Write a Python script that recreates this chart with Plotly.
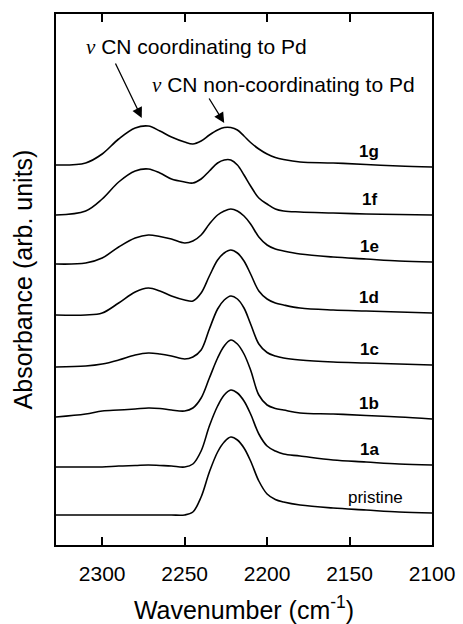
import plotly.graph_objects as go

# Wavenumber grid (cm^-1)
wavenumber = [2328, 2310, 2300, 2290, 2280, 2272, 2265, 2258, 2250, 2245, 2240, 2235, 2230, 2226,
              2222, 2218, 2214, 2210, 2205, 2200, 2195, 2190, 2180, 2160, 2140, 2120, 2100]

# Stacked absorbance (arb. units)
s_1g = [3.80, 3.82, 3.91, 4.06, 4.17, 4.19, 4.14, 4.08, 4.03, 4.01, 4.04, 4.10, 4.15, 4.175,
        4.175, 4.15, 4.09, 4.025, 3.96, 3.91, 3.875, 3.855, 3.83, 3.82, 3.805, 3.79, 3.78]
s_1f = [3.30, 3.34, 3.46, 3.63, 3.74, 3.76, 3.72, 3.66, 3.63, 3.62, 3.66, 3.74, 3.82, 3.85,
        3.85, 3.80, 3.70, 3.59, 3.47, 3.41, 3.36, 3.34, 3.33, 3.32, 3.31, 3.305, 3.30]
s_1e = [2.81, 2.82, 2.87, 2.98, 3.07, 3.10, 3.085, 3.06, 3.02, 3.04, 3.10, 3.21, 3.30, 3.34,
        3.36, 3.34, 3.29, 3.21, 3.08, 3.00, 2.96, 2.94, 2.91, 2.88, 2.86, 2.84, 2.83]
s_1d = [2.30, 2.30, 2.32, 2.42, 2.53, 2.57, 2.54, 2.49, 2.45, 2.44, 2.52, 2.69, 2.85, 2.92,
        2.95, 2.92, 2.84, 2.71, 2.54, 2.46, 2.42, 2.40, 2.37, 2.35, 2.34, 2.33, 2.32]
s_1c = [1.78, 1.79, 1.81, 1.85, 1.90, 1.92, 1.91, 1.89, 1.86, 1.88, 1.95, 2.16, 2.36, 2.45,
        2.49, 2.46, 2.37, 2.21, 2.01, 1.925, 1.89, 1.87, 1.85, 1.83, 1.82, 1.81, 1.80]
s_1b = [1.28, 1.31, 1.34, 1.35, 1.36, 1.37, 1.365, 1.35, 1.34, 1.37, 1.47, 1.67, 1.87, 1.99,
        2.05, 2.01, 1.91, 1.75, 1.50, 1.40, 1.365, 1.35, 1.32, 1.31, 1.295, 1.28, 1.26]
s_1a = [0.78, 0.78, 0.78, 0.79, 0.795, 0.80, 0.795, 0.79, 0.78, 0.81, 0.94, 1.19, 1.39, 1.50,
        1.55, 1.52, 1.44, 1.31, 1.11, 0.99, 0.94, 0.91, 0.89, 0.85, 0.83, 0.81, 0.80]
s_pristine = [0.30, 0.30, 0.30, 0.30, 0.30, 0.30, 0.30, 0.30, 0.30, 0.33, 0.48, 0.73, 0.93, 1.03,
              1.08, 1.05, 0.97, 0.84, 0.64, 0.51, 0.455, 0.43, 0.40, 0.37, 0.35, 0.33, 0.32]

labels = ["1g", "1f", "1e", "1d", "1c", "1b", "1a", "pristine"]
series = [s_1g, s_1f, s_1e, s_1d, s_1c, s_1b, s_1a, s_pristine]

x_ticks = [2300, 2250, 2200, 2150, 2100]

FONT = "Liberation Sans, Arial, sans-serif"
NU = "<span style=\"font-family:'Liberation Serif','DejaVu Serif',serif\"><i>ν</i></span>"

fig = go.Figure()
for name, ys in zip(labels, series):
    fig.add_trace(go.Scatter(x=wavenumber, y=ys, mode="lines", name=name,
                             line=dict(color="black", width=1.6, shape="spline", smoothing=1.0),
                             showlegend=False, hoverinfo="skip"))

annotations = []
for name, ys in zip(labels, series):
    bold = name != "pristine"
    annotations.append(dict(
        x=2138 if bold else 2134, y=ys[-1], xref="x", yref="y",
        text=f"<b>{name}</b>" if bold else name, showarrow=False,
        xanchor="center", yanchor="middle", yshift=16,
        font=dict(family=FONT, size=17, color="black")))

# peak labels
annotations.append(dict(x=2243, y=4.98, xref="x", yref="y",
                        text=f"{NU} CN coordinating to Pd", showarrow=False,
                        xanchor="center", yanchor="middle",
                        font=dict(family=FONT, size=21, color="black")))
annotations.append(dict(x=2190, y=4.60, xref="x", yref="y",
                        text=f"{NU} CN non-coordinating to Pd", showarrow=False,
                        xanchor="center", yanchor="middle",
                        font=dict(family=FONT, size=21, color="black")))
# arrows
annotations.append(dict(x=2276, y=4.27, xref="x", yref="y", text="", showarrow=True,
                        ax=-27, ay=-56, arrowhead=2, arrowsize=1.6, arrowwidth=1.3,
                        arrowcolor="black"))
annotations.append(dict(x=2226, y=4.22, xref="x", yref="y", text="", showarrow=True,
                        ax=-16, ay=-26, arrowhead=2, arrowsize=1.6, arrowwidth=1.3,
                        arrowcolor="black"))

fig.update_layout(
    width=463, height=624,
    margin=dict(l=56, r=31, t=14, b=79),
    paper_bgcolor="white", plot_bgcolor="white",
    font=dict(family=FONT, color="black"),
    annotations=annotations,
    xaxis=dict(range=[2328, 2100], tickvals=x_ticks, ticks="inside", ticklen=8, tickwidth=1.5,
               tickcolor="black", showline=True, linewidth=2, linecolor="black", mirror="ticks",
               showgrid=False, zeroline=False, tickfont=dict(size=21, family=FONT),
               ticklabelstandoff=9, automargin=False,
               title=dict(text="Wavenumber (cm<sup>-1</sup>)", font=dict(size=25, family=FONT),
                          standoff=24)),
    yaxis=dict(range=[0, 5.31], showticklabels=False, ticks="", showline=True, linewidth=2,
               linecolor="black", mirror=True, showgrid=False, zeroline=False, automargin=False,
               title=dict(text="Absorbance (arb. units)", font=dict(size=25, family=FONT),
                          standoff=14)),
)

fig.write_html("out.html")
